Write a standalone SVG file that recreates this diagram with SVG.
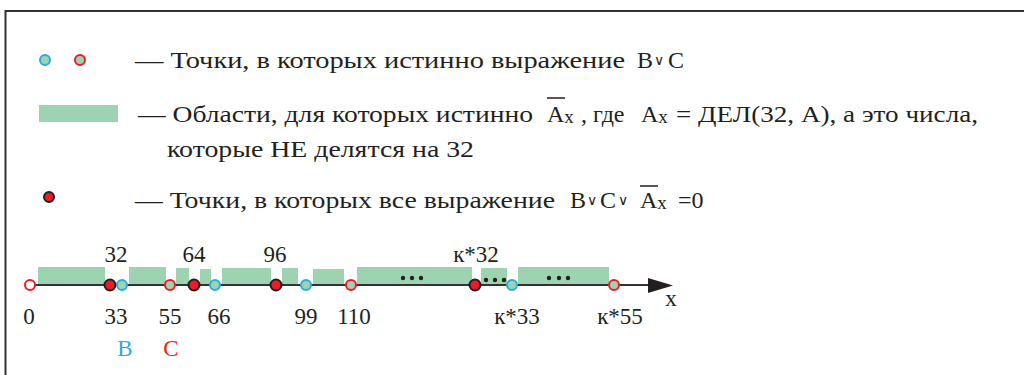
<svg xmlns="http://www.w3.org/2000/svg" width="1024" height="375" viewBox="0 0 1024 375">
<style>
.t{font-family:"Liberation Serif","Times New Roman",serif;font-size:24px;fill:#231f20}
.n{font-family:"Liberation Serif","Times New Roman",serif;font-size:23px;fill:#231f20;text-anchor:middle}
.sub{font-size:19px}
.or{font-size:14px}
.g{fill:#9dd3b0}
.pb{fill:#9dd3b0;stroke:#29abe2;stroke-width:2}
.pr{fill:#9dd3b0;stroke:#ec1c24;stroke-width:2}
.pw{fill:#fff;stroke:#ec1c24;stroke-width:2}
.pk{fill:#ec1c24;stroke:#231f20;stroke-width:2}
.dot{fill:#231f20}
.ov{stroke:#231f20;stroke-width:1.5}
</style>
<rect width="1024" height="375" fill="#fff"/>
<g id="frame" stroke="#333" stroke-width="2" fill="none">
<line x1="5" y1="11" x2="1024" y2="11"/>
<line x1="5.5" y1="10" x2="5.5" y2="375"/>
</g>
<g id="legend-points">
<circle class="pb" cx="45" cy="60" r="5"/>
<circle class="pr" cx="80" cy="60" r="5"/>
<text class="t" x="135" y="68" textLength="490" lengthAdjust="spacingAndGlyphs">— Точки, в которых истинно  выражение</text>
<text class="t" y="68"><tspan x="637">B</tspan><tspan class="or" x="654" dy="-3">∨</tspan><tspan x="668" dy="3">C</tspan></text>
</g>
<g id="legend-areas">
<rect class="g" x="39" y="105" width="79" height="17"/>
<text class="t" x="138" y="122" textLength="395" lengthAdjust="spacingAndGlyphs">— Области, для которых истинно</text>
<text class="t" x="547" y="122">A<tspan class="sub" dy="1">x</tspan></text>
<line class="ov" x1="547" y1="98" x2="565" y2="98"/>
<text class="t" x="581" y="122">, где</text>
<text class="t" x="641" y="122">A<tspan class="sub" dy="1">x</tspan></text>
<text class="t" x="676" y="122" textLength="302" lengthAdjust="spacingAndGlyphs">= ДЕЛ(32, A), а это числа,</text>
<text class="t" x="167" y="157" textLength="307" lengthAdjust="spacingAndGlyphs">которые НЕ делятся на 32</text>
</g>
<g id="legend-zero">
<circle class="pk" cx="49" cy="197" r="5"/>
<text class="t" x="135" y="208" textLength="420" lengthAdjust="spacingAndGlyphs">— Точки, в которых все выражение</text>
<text class="t" y="208"><tspan x="570">B</tspan><tspan class="or" x="587" dy="-3">∨</tspan><tspan x="600" dy="3">C</tspan><tspan class="or" x="618" dy="-3">∨</tspan></text>
<text class="t" x="640" y="208">A<tspan class="sub" dy="1">x</tspan></text>
<line class="ov" x1="640" y1="186" x2="658" y2="186"/>
<text class="t" x="678" y="208">=0</text>
</g>
<g id="areas">
<rect class="g" x="38" y="267" width="67" height="18"/>
<rect class="g" x="129" y="267" width="37" height="18"/>
<rect class="g" x="176" y="268" width="13" height="17"/>
<rect class="g" x="200" y="269" width="11" height="16"/>
<rect class="g" x="222" y="268" width="49" height="17"/>
<rect class="g" x="282" y="268" width="16" height="17"/>
<rect class="g" x="313" y="269" width="31" height="16"/>
<rect class="g" x="357" y="267" width="115" height="18"/>
<rect class="g" x="481" y="268" width="26" height="17"/>
<rect class="g" x="518" y="267" width="91" height="18"/>
<circle class="dot" cx="403" cy="278" r="2.2"/><circle class="dot" cx="412" cy="278" r="2.2"/><circle class="dot" cx="421" cy="278" r="2.2"/>
<circle class="dot" cx="486" cy="280" r="2.2"/><circle class="dot" cx="495" cy="280" r="2.2"/><circle class="dot" cx="504" cy="280" r="2.2"/>
<circle class="dot" cx="549" cy="278" r="2.2"/><circle class="dot" cx="559" cy="278" r="2.2"/><circle class="dot" cx="568" cy="278" r="2.2"/>
</g>
<g id="connectors">
<line x1="30" y1="285" x2="652" y2="285" stroke="#333" stroke-width="2"/>
<polygon points="648,278 673,285.5 648,293" fill="#231f20"/>
</g>
<g id="axis-points">
<circle class="pw" cx="30" cy="285" r="5"/>
<circle class="pk" cx="110" cy="285" r="5.5"/>
<circle class="pb" cx="122" cy="285" r="5"/>
<circle class="pr" cx="170" cy="285" r="5"/>
<circle class="pk" cx="194" cy="285" r="5.5"/>
<circle class="pb" cx="215" cy="285" r="5"/>
<circle class="pk" cx="276" cy="285" r="5.5"/>
<circle class="pb" cx="306" cy="285" r="5"/>
<circle class="pr" cx="351" cy="285" r="5"/>
<circle class="pk" cx="475" cy="285" r="5.5"/>
<circle class="pb" cx="512" cy="285" r="5"/>
<circle class="pr" cx="614" cy="285" r="5"/>
</g>
<g id="axis-labels">
<text class="n" x="116" y="262">32</text>
<text class="n" x="194" y="262">64</text>
<text class="n" x="275" y="262">96</text>
<text class="n" x="476" y="262">к*32</text>
<text class="n" x="29" y="324">0</text>
<text class="n" x="116" y="324">33</text>
<text class="n" x="170" y="324">55</text>
<text class="n" x="219" y="324">66</text>
<text class="n" x="306" y="324">99</text>
<text class="n" x="354" y="324">110</text>
<text class="n" x="517" y="324">к*33</text>
<text class="n" x="620" y="324">к*55</text>
<text class="n" x="671" y="306">x</text>
<text class="n" x="125" y="356" style="fill:#29abe2">B</text>
<text class="n" x="171" y="356" style="fill:#ec1c24">C</text>
</g>
</svg>
